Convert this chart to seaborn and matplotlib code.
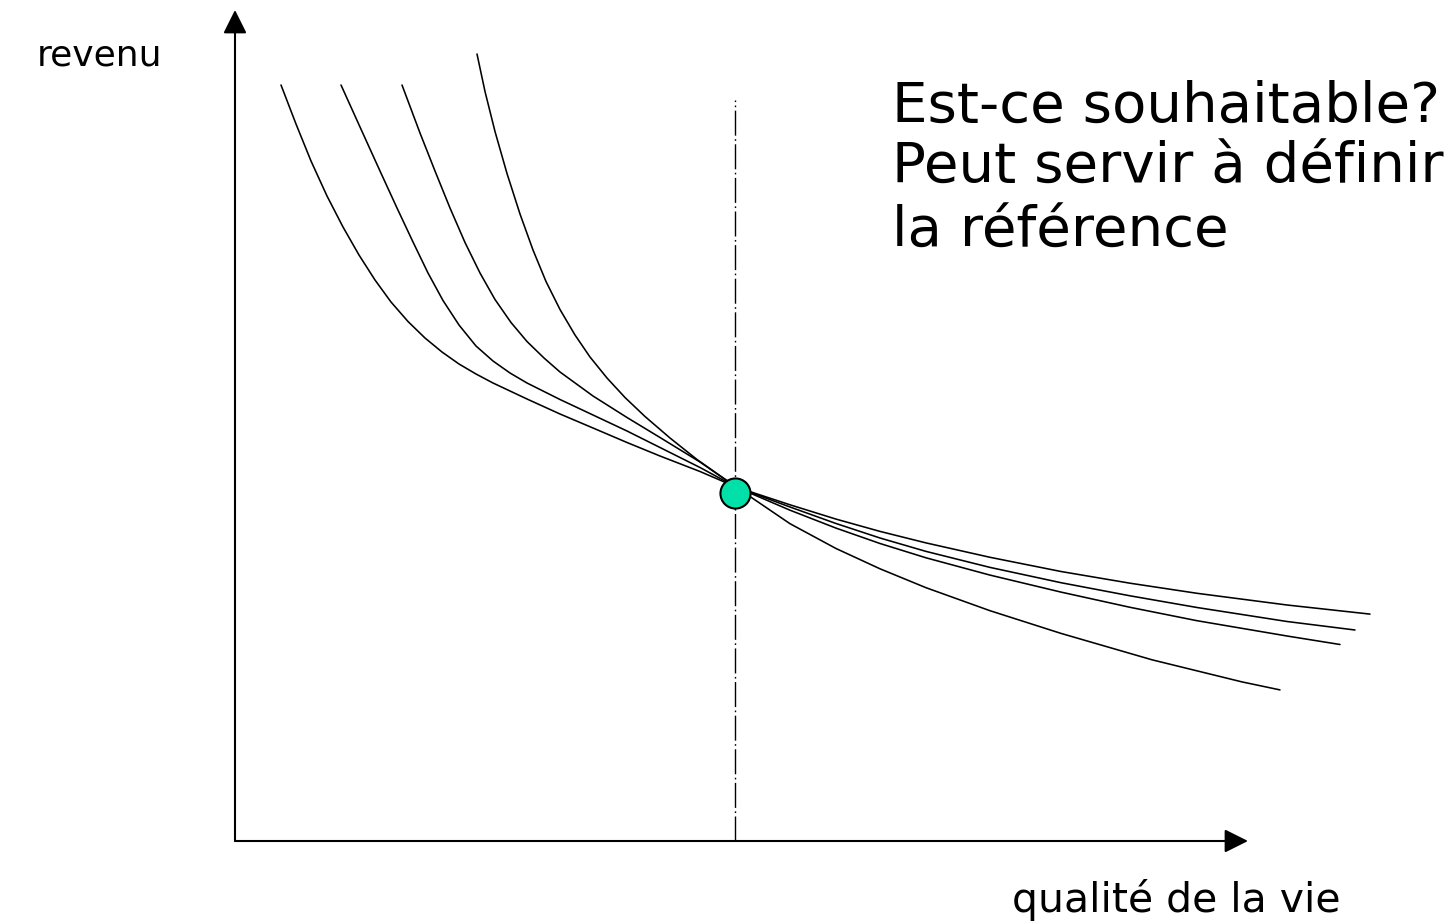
import matplotlib
matplotlib.use("Agg")
import matplotlib.pyplot as plt
import numpy as np
import pandas as pd
import seaborn as sns

# ---- data (abstract units: origin at the axes corner) ----
curve_a_x = [0.46, 0.61, 0.76, 0.92, 1.08, 1.24, 1.40, 1.56, 1.73, 1.90, 2.07, 2.24, 2.41, 2.58,
             2.92, 3.25, 3.58, 3.92, 4.25, 4.65, 5.01,
             5.55, 6.01, 6.45, 6.91, 7.55, 8.26, 8.95, 9.62, 10.52, 11.35]
curve_a_y = [7.56, 7.17, 6.80, 6.45, 6.14, 5.86, 5.61, 5.39, 5.195, 5.03, 4.89, 4.77, 4.67, 4.58,
             4.42, 4.27, 4.13, 3.985, 3.85, 3.695, 3.54,
             3.362, 3.219, 3.096, 2.981, 2.837, 2.695, 2.578, 2.477, 2.36, 2.269]

curve_b_x = [1.06, 1.25, 1.45, 1.62, 1.78, 1.93, 2.08, 2.24, 2.41, 2.58, 2.75, 2.92,
             3.25, 3.58, 3.92, 4.25, 4.65, 5.01,
             5.55, 6.01, 6.45, 6.91, 7.55, 8.26, 8.95, 9.62, 10.52, 11.20]
curve_b_y = [7.56, 7.14, 6.70, 6.33, 5.99, 5.68, 5.405, 5.16, 4.95, 4.80, 4.68, 4.58,
             4.415, 4.26, 4.10, 3.935, 3.735, 3.54,
             3.34, 3.175, 3.03, 2.896, 2.736, 2.583, 2.452, 2.335, 2.195, 2.11]

curve_c_x = [1.67, 1.85, 2.00, 2.15, 2.30, 2.45, 2.60, 2.76, 2.92, 3.09, 3.25,
             3.58, 3.92, 4.25, 4.65, 5.01,
             5.55, 6.01, 6.45, 6.91, 7.55, 8.26, 8.95, 9.62, 10.52, 11.05]
curve_c_y = [7.56, 7.08, 6.70, 6.33, 5.985, 5.68, 5.415, 5.185, 4.995, 4.83, 4.69,
             4.45, 4.235, 4.035, 3.79, 3.54,
             3.308, 3.129, 2.975, 2.832, 2.659, 2.489, 2.337, 2.203, 2.05, 1.965]

curve_d_x = [2.42, 2.50, 2.60, 2.72, 2.85, 2.98, 3.11, 3.25, 3.40, 3.55, 3.72, 3.90, 4.10,
             4.35, 4.62, 5.01,
             5.55, 6.01, 6.45, 6.91, 7.55, 8.26, 9.17, 10.07, 10.45]
curve_d_y = [7.87, 7.495, 7.095, 6.675, 6.27, 5.91, 5.595, 5.315, 5.06, 4.84, 4.63, 4.435, 4.245,
             4.03, 3.815, 3.54,
             3.173, 2.925, 2.722, 2.533, 2.303, 2.076, 1.812, 1.591, 1.511]

point_x = [5.00]
point_y = [3.48]

ref_line_x = [5.00, 5.00]
ref_line_y = [0.0, 7.41]

x_axis_end = 10.13
y_axis_end = 8.31

label_y = "revenu"
label_x = "qualité de la vie"
note_lines = ["Est-ce souhaitable?", "Peut servir à définir", "la référence"]

# ---- build long-form table ----
frames = []
for name, xs, ys in [("A", curve_a_x, curve_a_y), ("B", curve_b_x, curve_b_y),
                     ("C", curve_c_x, curve_c_y), ("D", curve_d_x, curve_d_y)]:
    frames.append(pd.DataFrame({"curve": name, "x": xs, "y": ys}))
df = pd.concat(frames, ignore_index=True)

sns.set_theme(style="white")
plt.rcParams["font.family"] = ["DejaVu Sans"]
plt.rcParams["text.color"] = "black"

fig = plt.figure(figsize=(14.52, 9.22), dpi=100)
ax = fig.add_axes([0, 0, 1, 1])
ax.set_xlim(-2.35, 12.17)
ax.set_ylim(-0.81, 8.41)
ax.axis("off")

sns.lineplot(data=df, x="x", y="y", units="curve", estimator=None, sort=False,
             color="black", linewidth=1.15, ax=ax, legend=False)

# dash-dot reference line
ax.plot(ref_line_x, ref_line_y, color="black", linewidth=1.0,
        linestyle=(0, (18, 2.5, 1.2, 2.5)))

# axes arrows
arrow_kw = dict(arrowstyle="-|>,head_length=0.72,head_width=0.36", mutation_scale=20,
                color="black", linewidth=1.5, shrinkA=0, shrinkB=0)
ax.annotate("", xy=(0, y_axis_end), xytext=(0, 0), arrowprops=arrow_kw)
ax.annotate("", xy=(x_axis_end, 0), xytext=(0, 0), arrowprops=arrow_kw)

# point
sns.scatterplot(x=point_x, y=point_y, s=470, color="#00E0A8", edgecolor="black",
                linewidth=1.5, zorder=5, ax=ax, legend=False)

# texts
ax.text(-1.98, 7.76, label_y, fontsize=26, ha="left", va="baseline", color="black")
ax.text(7.77, -0.71, label_x, fontsize=29.5, ha="left", va="baseline", color="black")
for yy, line in zip([7.19, 6.58, 5.94], note_lines):
    ax.text(6.57, yy, line, fontsize=40.5, ha="left", va="baseline", color="black")

fig.savefig("out.png", dpi=100)
